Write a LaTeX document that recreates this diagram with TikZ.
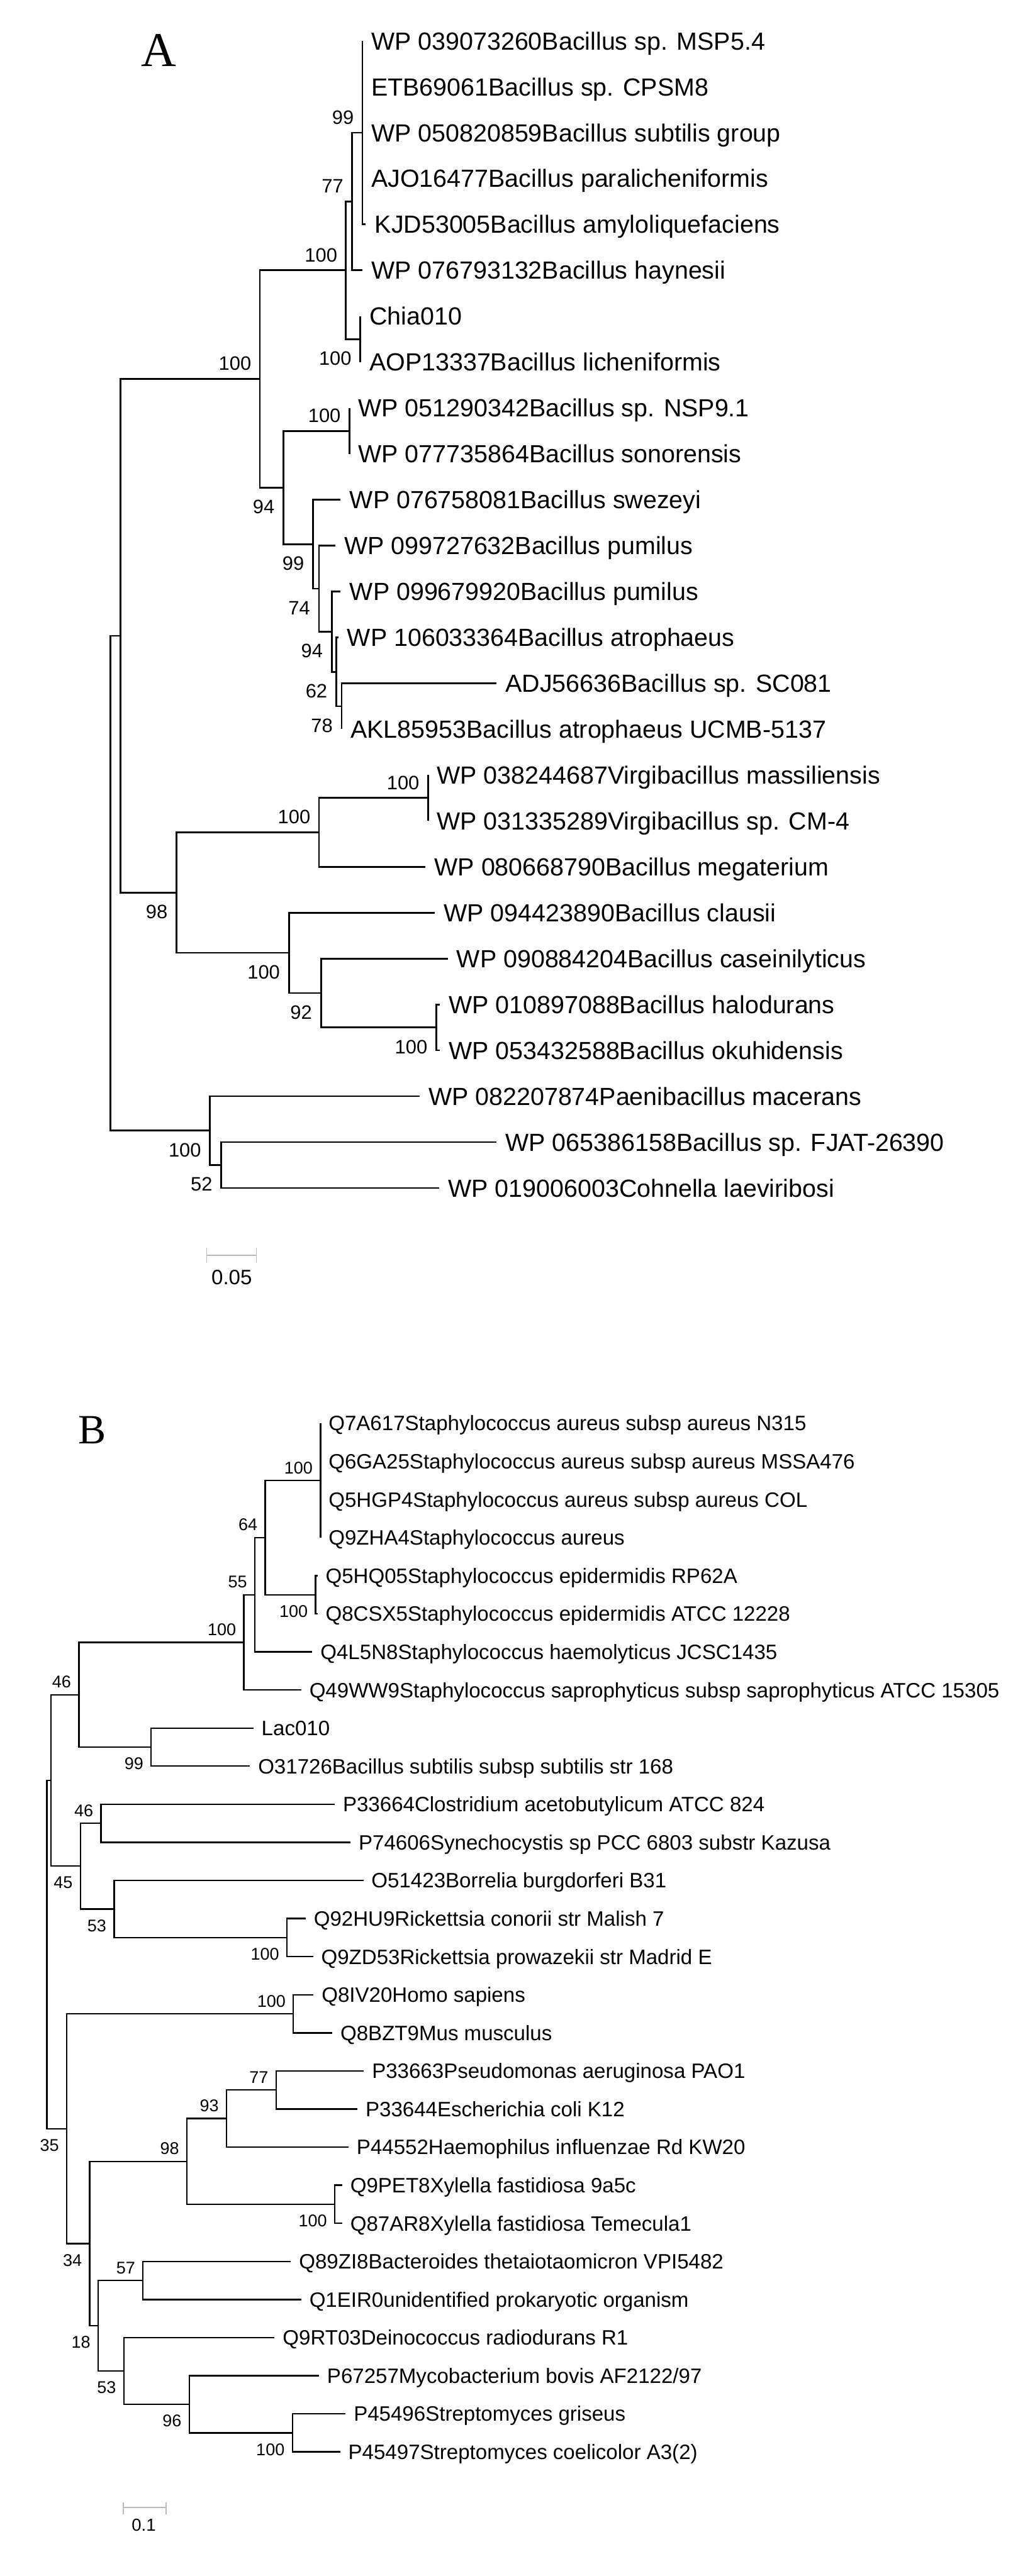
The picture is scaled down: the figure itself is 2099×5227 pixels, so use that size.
\documentclass[tikz,border=0pt]{standalone}
\usepackage{fontspec}
\setmainfont{Liberation Sans}
\newfontfamily\panelfont{Liberation Serif}
\usetikzlibrary{positioning}
\definecolor{scalegray}{RGB}{185,185,185}

\begin{document}
\begin{tikzpicture}[
  x=0.01cm, y=-0.01cm,
  branchA/.style={line width=1pt},
  branchB/.style={line width=0.85pt},
  leafA/.style={anchor=base west, yshift=-5.1pt, inner xsep=5pt, inner ysep=0pt, font=\fontsize{14.3}{16}\selectfont},
  leafB/.style={anchor=base west, yshift=-4.3pt, inner xsep=4.5pt, inner ysep=0pt, font=\fontsize{12}{14}\selectfont},
  bootA/.style={inner sep=0pt, font=\fontsize{11.2}{13}\selectfont},
  bootB/.style={inner sep=0pt, font=\fontsize{9.8}{12}\selectfont},
  upA/.style={bootA, anchor=base east, xshift=-4.8pt, yshift=5pt},
  dnA/.style={bootA, anchor=north east, xshift=-5pt, yshift=-7pt},
  upB/.style={bootB, anchor=base east, xshift=-4.3pt, yshift=4pt},
  dnB/.style={bootB, anchor=north east, xshift=-4.3pt, yshift=-5.9pt},
  scalebar/.style={draw=scalegray, line width=0.5pt},
  panel/.style={anchor=base, inner sep=0pt, font=\panelfont\fontsize{28}{30}\selectfont}
]
\useasboundingbox (0,0) rectangle (2099,5227);

% ---------------- panel A
\node[panel] (pa) at (322,134) {A};

\coordinate (aroot) at (224,1792);
\coordinate (an1) at (244,1290);
\coordinate (ap) at (527,768.9);
\coordinate (ap1) at (701.5,548.5);
\coordinate (an77) at (714,408.9);
\coordinate (an99) at (735,269.2);
\coordinate (ach) at (731,688.2);
\coordinate (ap2) at (575,989.3);
\coordinate (an100b) at (708.5,874.4);
\coordinate (an99b) at (635,1104.2);
\coordinate (an74) at (647,1194.4);
\coordinate (an94) at (673,1281.7);
\coordinate (an62) at (682,1363.1);
\coordinate (an78) at (693,1433);
\coordinate (aq) at (358,1811.2);
\coordinate (an100c) at (647,1689);
\coordinate (an100d) at (868,1619.2);
\coordinate (an100e) at (586,1933.4);
\coordinate (an92) at (651,2014.9);
\coordinate (an100f) at (885,2084.7);
\coordinate (an2) at (426,2294);
\coordinate (an52) at (449,2364);

\coordinate (a1) at (735,83);
\coordinate (a2) at (735,176.1);
\coordinate (a3) at (735,269.2);
\coordinate (a4) at (735,362.3);
\coordinate (a5) at (742,455.4);
\coordinate (a6) at (735,548.5);
\coordinate (a7) at (731,641.6);
\coordinate (a8) at (731,734.7);
\coordinate (a9) at (708.5,827.8);
\coordinate (a10) at (708.5,920.9);
\coordinate (a11) at (691,1014);
\coordinate (a12) at (680,1107.1);
\coordinate (a13) at (691,1200.2);
\coordinate (a14) at (686,1293.3);
\coordinate (a15) at (1007,1386.4);
\coordinate (a16) at (693,1479.5);
\coordinate (a17) at (868,1572.6);
\coordinate (a18) at (868,1665.7);
\coordinate (a19) at (863,1758.8);
\coordinate (a20) at (882,1851.9);
\coordinate (a21) at (908,1945);
\coordinate (a22) at (892,2038.1);
\coordinate (a23) at (892,2131.2);
\coordinate (a24) at (851,2224.3);
\coordinate (a25) at (1007,2317.4);
\coordinate (a26) at (891,2410.5);

\node[leafA] (la1) at (a1) {WP 039073260Bacillus sp. MSP5.4};
\node[leafA] (la2) at (a2) {ETB69061Bacillus sp. CPSM8};
\node[leafA] (la3) at (a3) {WP 050820859Bacillus subtilis group};
\node[leafA] (la4) at (a4) {AJO16477Bacillus paralicheniformis};
\node[leafA] (la5) at (a5) {KJD53005Bacillus amyloliquefaciens};
\node[leafA] (la6) at (a6) {WP 076793132Bacillus haynesii};
\node[leafA] (la7) at (a7) {Chia010};
\node[leafA] (la8) at (a8) {AOP13337Bacillus licheniformis};
\node[leafA] (la9) at (a9) {WP 051290342Bacillus sp. NSP9.1};
\node[leafA] (la10) at (a10) {WP 077735864Bacillus sonorensis};
\node[leafA] (la11) at (a11) {WP 076758081Bacillus swezeyi};
\node[leafA] (la12) at (a12) {WP 099727632Bacillus pumilus};
\node[leafA] (la13) at (a13) {WP 099679920Bacillus pumilus};
\node[leafA] (la14) at (a14) {WP 106033364Bacillus atrophaeus};
\node[leafA] (la15) at (a15) {ADJ56636Bacillus sp. SC081};
\node[leafA] (la16) at (a16) {AKL85953Bacillus atrophaeus UCMB-5137};
\node[leafA] (la17) at (a17) {WP 038244687Virgibacillus massiliensis};
\node[leafA] (la18) at (a18) {WP 031335289Virgibacillus sp. CM-4};
\node[leafA] (la19) at (a19) {WP 080668790Bacillus megaterium};
\node[leafA] (la20) at (a20) {WP 094423890Bacillus clausii};
\node[leafA] (la21) at (a21) {WP 090884204Bacillus caseinilyticus};
\node[leafA] (la22) at (a22) {WP 010897088Bacillus halodurans};
\node[leafA] (la23) at (a23) {WP 053432588Bacillus okuhidensis};
\node[leafA] (la24) at (a24) {WP 082207874Paenibacillus macerans};
\node[leafA] (la25) at (a25) {WP 065386158Bacillus sp. FJAT-26390};
\node[leafA] (la26) at (a26) {WP 019006003Cohnella laeviribosi};

\draw[branchA] (aroot) |- (an1) (aroot) |- (an2);
\draw[branchA] (an1) |- (ap) (an1) |- (aq);
\draw[branchA] (ap) |- (ap1) (ap) |- (ap2);
\draw[branchA] (ap1) |- (an77) (ap1) |- (ach);
\draw[branchA] (an77) |- (an99) (an77) |- (a6);
\draw[branchA] (an99) |- (a1) (an99) |- (a2) (an99) |- (a3) (an99) |- (a4) (an99) |- (a5);
\draw[branchA] (ach) |- (a7) (ach) |- (a8);
\draw[branchA] (ap2) |- (an100b) (ap2) |- (an99b);
\draw[branchA] (an100b) |- (a9) (an100b) |- (a10);
\draw[branchA] (an99b) |- (a11) (an99b) |- (an74);
\draw[branchA] (an74) |- (a12) (an74) |- (an94);
\draw[branchA] (an94) |- (a13) (an94) |- (an62);
\draw[branchA] (an62) |- (a14) (an62) |- (an78);
\draw[branchA] (an78) |- (a15) (an78) |- (a16);
\draw[branchA] (aq) |- (an100c) (aq) |- (an100e);
\draw[branchA] (an100c) |- (an100d) (an100c) |- (a19);
\draw[branchA] (an100d) |- (a17) (an100d) |- (a18);
\draw[branchA] (an100e) |- (a20) (an100e) |- (an92);
\draw[branchA] (an92) |- (a21) (an92) |- (an100f);
\draw[branchA] (an100f) |- (a22) (an100f) |- (a23);
\draw[branchA] (an2) |- (a24) (an2) |- (an52);
\draw[branchA] (an52) |- (a25) (an52) |- (a26);

% bootstrap values A
\node[upA] (bap) at (ap) {100};
\node[upA] (bap1) at (ap1) {100};
\node[upA] (ban77) at (an77) {77};
\node[upA] (ban99) at (an99) {99};
\node[dnA] (bach) at (ach) {100};
\node[dnA] (bap2) at (ap2) {94};
\node[upA] (ban100b) at (an100b) {100};
\node[dnA] (ban99b) at (an99b) {99};
\node[dnA] (ban74) at (an74) {74};
\node[dnA] (ban94) at (an94) {94};
\node[dnA] (ban62) at (an62) {62};
\node[dnA] (ban78) at (an78) {78};
\node[dnA] (baq) at (aq) {98};
\node[upA] (ban100c) at (an100c) {100};
\node[upA] (ban100d) at (an100d) {100};
\node[dnA] (ban100e) at (an100e) {100};
\node[dnA] (ban92) at (an92) {92};
\node[dnA] (ban100f) at (an100f) {100};
\node[dnA] (ban2) at (an2) {100};
\node[dnA] (ban52) at (an52) {52};

% scale A
\draw[scalebar] (419,2532) -- (419,2563) (419,2547) -- (520,2547) (520,2532) -- (520,2563);
\node[bootA, font=\fontsize{12}{14}\selectfont] (sla) at (470,2592) {0.05};

% ---------------- panel B
\node[panel, font=\panelfont\fontsize{24}{26}\selectfont] (pb) at (187,2929) {B};

\coordinate (broot) at (95,3966);
\coordinate (bt) at (103,3612.7);
\coordinate (bb46) at (160,3438.8);
\coordinate (bs100) at (494.6,3332.5);
\coordinate (bs55) at (517,3235.9);
\coordinate (bs64) at (538,3120);
\coordinate (bsa) at (650,3004);
\coordinate (bse) at (640,3235.9);
\coordinate (bl99) at (306.6,3545);
\coordinate (bn45) at (163,3786.6);
\coordinate (bc46) at (205,3699.7);
\coordinate (br53) at (231.5,3873.6);
\coordinate (bri) at (582,3931.6);
\coordinate (bx35) at (135.4,4319.3);
\coordinate (bh) at (595,4086.2);
\coordinate (bx34) at (182,4552.4);
\coordinate (bg98) at (379,4385.7);
\coordinate (bg93) at (459.5,4298.7);
\coordinate (bg77) at (560,4240.8);
\coordinate (bxy) at (679,4472.7);
\coordinate (bx18) at (199,4719.1);
\coordinate (bb57) at (290,4627.3);
\coordinate (bd53) at (251,4810.9);
\coordinate (bm96) at (384,4878.5);
\coordinate (bsm) at (593,4936.5);

\coordinate (b1) at (650,2888);
\coordinate (b2) at (650,2965.3);
\coordinate (b3) at (650,3042.6);
\coordinate (b4) at (650,3119.9);
\coordinate (b5) at (644,3197.2);
\coordinate (b6) at (644,3274.5);
\coordinate (b7) at (633.5,3351.8);
\coordinate (b8) at (611,3429.1);
\coordinate (b9) at (514,3506.4);
\coordinate (b10) at (507,3583.7);
\coordinate (b11) at (679,3661);
\coordinate (b12) at (711,3738.3);
\coordinate (b13) at (737,3815.6);
\coordinate (b14) at (620,3892.9);
\coordinate (b15) at (635,3970.2);
\coordinate (b16) at (636,4047.5);
\coordinate (b17) at (674,4124.8);
\coordinate (b18) at (738,4202.1);
\coordinate (b19) at (725,4279.4);
\coordinate (b20) at (707,4356.7);
\coordinate (b21) at (694,4434);
\coordinate (b22) at (694,4511.3);
\coordinate (b23) at (590,4588.6);
\coordinate (b24) at (611,4665.9);
\coordinate (b25) at (557,4743.2);
\coordinate (b26) at (647,4820.5);
\coordinate (b27) at (701,4897.8);
\coordinate (b28) at (690,4975.1);

\node[leafB] (lb1) at (b1) {Q7A617Staphylococcus aureus subsp aureus N315};
\node[leafB] (lb2) at (b2) {Q6GA25Staphylococcus aureus subsp aureus MSSA476};
\node[leafB] (lb3) at (b3) {Q5HGP4Staphylococcus aureus subsp aureus COL};
\node[leafB] (lb4) at (b4) {Q9ZHA4Staphylococcus aureus};
\node[leafB] (lb5) at (b5) {Q5HQ05Staphylococcus epidermidis RP62A};
\node[leafB] (lb6) at (b6) {Q8CSX5Staphylococcus epidermidis ATCC 12228};
\node[leafB] (lb7) at (b7) {Q4L5N8Staphylococcus haemolyticus JCSC1435};
\node[leafB] (lb8) at (b8) {Q49WW9Staphylococcus saprophyticus subsp saprophyticus ATCC 15305};
\node[leafB] (lb9) at (b9) {Lac010};
\node[leafB] (lb10) at (b10) {O31726Bacillus subtilis subsp subtilis str 168};
\node[leafB] (lb11) at (b11) {P33664Clostridium acetobutylicum ATCC 824};
\node[leafB] (lb12) at (b12) {P74606Synechocystis sp PCC 6803 substr Kazusa};
\node[leafB] (lb13) at (b13) {O51423Borrelia burgdorferi B31};
\node[leafB] (lb14) at (b14) {Q92HU9Rickettsia conorii str Malish 7};
\node[leafB] (lb15) at (b15) {Q9ZD53Rickettsia prowazekii str Madrid E};
\node[leafB] (lb16) at (b16) {Q8IV20Homo sapiens};
\node[leafB] (lb17) at (b17) {Q8BZT9Mus musculus};
\node[leafB] (lb18) at (b18) {P33663Pseudomonas aeruginosa PAO1};
\node[leafB] (lb19) at (b19) {P33644Escherichia coli K12};
\node[leafB] (lb20) at (b20) {P44552Haemophilus influenzae Rd KW20};
\node[leafB] (lb21) at (b21) {Q9PET8Xylella fastidiosa 9a5c};
\node[leafB] (lb22) at (b22) {Q87AR8Xylella fastidiosa Temecula1};
\node[leafB] (lb23) at (b23) {Q89ZI8Bacteroides thetaiotaomicron VPI5482};
\node[leafB] (lb24) at (b24) {Q1EIR0unidentified prokaryotic organism};
\node[leafB] (lb25) at (b25) {Q9RT03Deinococcus radiodurans R1};
\node[leafB] (lb26) at (b26) {P67257Mycobacterium bovis AF2122/97};
\node[leafB] (lb27) at (b27) {P45496Streptomyces griseus};
\node[leafB] (lb28) at (b28) {P45497Streptomyces coelicolor A3(2)};

\draw[branchB] (broot) |- (bt) (broot) |- (bx35);
\draw[branchB] (bt) |- (bb46) (bt) |- (bn45);
\draw[branchB] (bb46) |- (bs100) (bb46) |- (bl99);
\draw[branchB] (bs100) |- (bs55) (bs100) |- (b8);
\draw[branchB] (bs55) |- (bs64) (bs55) |- (b7);
\draw[branchB] (bs64) |- (bsa) (bs64) |- (bse);
\draw[branchB] (bsa) |- (b1) (bsa) |- (b2) (bsa) |- (b3) (bsa) |- (b4);
\draw[branchB] (bse) |- (b5) (bse) |- (b6);
\draw[branchB] (bl99) |- (b9) (bl99) |- (b10);
\draw[branchB] (bn45) |- (bc46) (bn45) |- (br53);
\draw[branchB] (bc46) |- (b11) (bc46) |- (b12);
\draw[branchB] (br53) |- (b13) (br53) |- (bri);
\draw[branchB] (bri) |- (b14) (bri) |- (b15);
\draw[branchB] (bx35) |- (bh) (bx35) |- (bx34);
\draw[branchB] (bh) |- (b16) (bh) |- (b17);
\draw[branchB] (bx34) |- (bg98) (bx34) |- (bx18);
\draw[branchB] (bg98) |- (bg93) (bg98) |- (bxy);
\draw[branchB] (bg93) |- (bg77) (bg93) |- (b20);
\draw[branchB] (bg77) |- (b18) (bg77) |- (b19);
\draw[branchB] (bxy) |- (b21) (bxy) |- (b22);
\draw[branchB] (bx18) |- (bb57) (bx18) |- (bd53);
\draw[branchB] (bb57) |- (b23) (bb57) |- (b24);
\draw[branchB] (bd53) |- (b25) (bd53) |- (bm96);
\draw[branchB] (bm96) |- (b26) (bm96) |- (bsm);
\draw[branchB] (bsm) |- (b27) (bsm) |- (b28);

% bootstrap values B
\node[upB] (bbb46) at (bb46) {46};
\node[upB] (bbs100) at (bs100) {100};
\node[upB] (bbs55) at (bs55) {55};
\node[upB] (bbs64) at (bs64) {64};
\node[upB] (bbsa) at (bsa) {100};
\node[dnB] (bbse) at (bse) {100};
\node[dnB] (bbl99) at (bl99) {99};
\node[dnB] (bbn45) at (bn45) {45};
\node[upB] (bbc46) at (bc46) {46};
\node[dnB] (bbr53) at (br53) {53};
\node[dnB] (bbri) at (bri) {100};
\node[dnB] (bbx35) at (bx35) {35};
\node[upB] (bbh) at (bh) {100};
\node[dnB] (bbx34) at (bx34) {34};
\node[upB] (bbg98) at (bg98) {98};
\node[upB] (bbg93) at (bg93) {93};
\node[upB] (bbg77) at (bg77) {77};
\node[dnB] (bbxy) at (bxy) {100};
\node[dnB] (bbx18) at (bx18) {18};
\node[upB] (bbb57) at (bb57) {57};
\node[dnB] (bbd53) at (bd53) {53};
\node[dnB] (bbm96) at (bm96) {96};
\node[dnB] (bbsm) at (bsm) {100};

% scale B
\draw[scalebar] (250,5077) -- (250,5102) (250,5088) -- (337,5088) (337,5077) -- (337,5102);
\node[bootB, font=\fontsize{10}{12}\selectfont] (slb) at (291.5,5124) {0.1};
\end{tikzpicture}
\end{document}
